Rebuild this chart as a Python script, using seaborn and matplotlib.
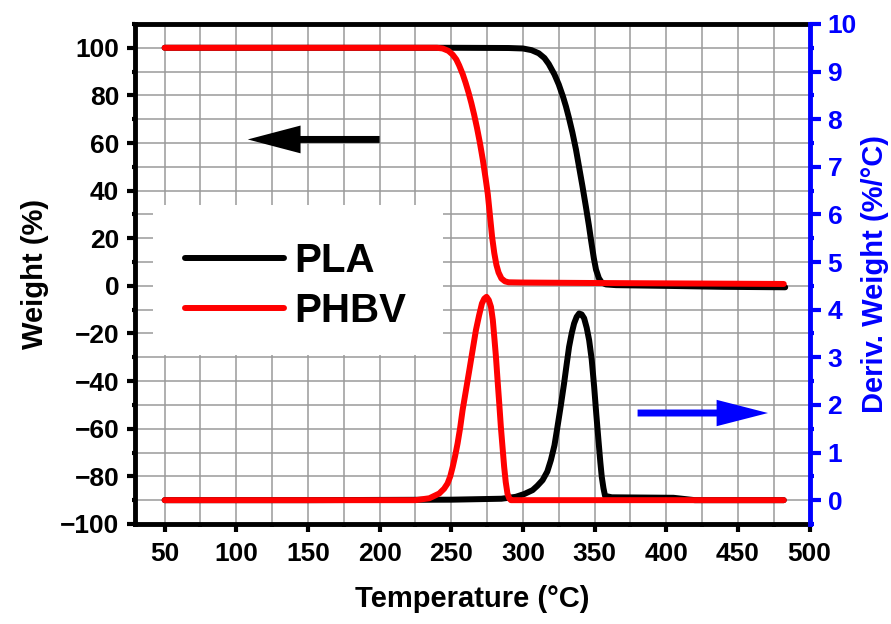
import matplotlib
matplotlib.use("Agg")
import matplotlib.pyplot as plt
import pandas as pd
import seaborn as sns
from matplotlib.ticker import MultipleLocator
from matplotlib.patches import Rectangle

# ---- TGA weight curves (left axis, %) ----
pla_w_temp = [50, 150, 250, 290, 300, 306, 311, 315, 318, 322, 325, 328, 330, 332,
              334.5, 337, 339, 341.5, 344, 346, 347.5, 349.5, 351, 353, 355, 358,
              365, 400, 440, 483]
pla_w = [100, 100, 100, 99.9, 99.7, 99.0, 97.7, 95.7, 93.2, 88.8, 84.6, 79.4, 75.4, 70.8,
         64.5, 57.3, 50.5, 42, 33, 25.5, 19.3, 11.5, 6.8, 3.2, 1.4, 0.6,
         0.3, 0.0, -0.4, -0.6]

phbv_w_temp = [50, 150, 240, 244, 248, 251, 253.5, 255.5, 258, 260, 262, 264, 266,
               268, 270, 272, 274, 275.5, 277, 278.5, 280, 281.5, 283, 285, 287.5,
               290, 300, 350, 400, 450, 482]
phbv_w = [100, 100, 100, 99.7, 98.7, 97.1, 95.1, 92.6, 88.9, 85.3, 81.3, 76.8, 71.8,
          66.2, 60, 53, 45, 38.5, 29.5, 20.5, 13.8, 8.8, 5.6, 3.1, 1.9,
          1.5, 1.4, 1.2, 1.05, 0.9, 0.8]

# ---- DTG curves (right axis, %/°C) ----
pla_d_temp = [50, 150, 250, 285, 295, 301, 306.7, 310, 313.7, 317, 319.5, 322, 324.1,
              326.5, 328.7, 330.5, 332.2, 334, 335.7, 337.5, 339.2, 341, 342.7, 344.5,
              346.2, 348, 349.7, 351.2, 352.7, 354, 355, 356.2, 357.3, 362, 405, 420, 482]
pla_d = [0, 0, 0.01, 0.03, 0.07, 0.13, 0.21, 0.3, 0.42, 0.6, 0.84, 1.15, 1.54,
         2.0, 2.45, 2.85, 3.22, 3.5, 3.71, 3.85, 3.92, 3.9, 3.82, 3.62,
         3.36, 2.95, 2.38, 1.8, 1.26, 0.8, 0.49, 0.25, 0.09, 0.06, 0.05, 0.0, 0.0]

phbv_d_temp = [50, 150, 225, 234.7, 241.6, 245, 247.4, 249.3, 251, 252.7, 254.4,
               256.2, 257.9, 260.2, 262.6, 265, 267.2, 269.4, 271.4, 273, 274.6,
               276.2, 277.7, 279, 280, 281.2, 282.3, 283.5, 284.6, 285.8, 286.9,
               288, 289.2, 290.4, 291.6, 300, 400, 482]
phbv_d = [0, 0, 0, 0.04, 0.14, 0.24, 0.35, 0.5, 0.70, 0.93, 1.19,
          1.52, 1.89, 2.3, 2.73, 3.17, 3.57, 3.88, 4.13, 4.23, 4.27,
          4.2, 4.06, 3.78, 3.43, 3.0, 2.52, 2.02, 1.54, 1.1, 0.70,
          0.38, 0.14, 0.04, 0.0, 0.0, 0.0, 0.0]

series_names = ["PLA", "PHBV"]
series_colors = ["black", "#ff0000"]

x_ticks = [50, 100, 150, 200, 250, 300, 350, 400, 450, 500]

weight_df = pd.concat([
    pd.DataFrame({"Temperature": pla_w_temp, "Weight": pla_w, "Sample": "PLA"}),
    pd.DataFrame({"Temperature": phbv_w_temp, "Weight": phbv_w, "Sample": "PHBV"}),
])
dtg_df = pd.concat([
    pd.DataFrame({"Temperature": pla_d_temp, "Deriv": pla_d, "Sample": "PLA"}),
    pd.DataFrame({"Temperature": phbv_d_temp, "Deriv": phbv_d, "Sample": "PHBV"}),
])

sns.set_theme(style="white")
plt.rcParams["font.family"] = ["Liberation Sans", "DejaVu Sans"]
plt.rcParams["font.weight"] = "bold"
plt.rcParams["axes.labelweight"] = "bold"
plt.rcParams["text.color"] = "black"
plt.rcParams["axes.labelcolor"] = "black"
plt.rcParams["xtick.color"] = "black"
plt.rcParams["ytick.color"] = "black"

fig = plt.figure(figsize=(8.91, 6.24), dpi=100)
ax = fig.add_axes([0.151, 0.1603, 0.7576, 0.8013])
ax2 = ax.twinx()

LW = 4.3
for name, color in zip(series_names, series_colors):
    sns.lineplot(data=weight_df[weight_df["Sample"] == name], x="Temperature", y="Weight",
                 ax=ax, color=color, lw=LW, label=name, estimator=None, sort=False,
                 legend=False, solid_capstyle="round", solid_joinstyle="round")
    sns.lineplot(data=dtg_df[dtg_df["Sample"] == name], x="Temperature", y="Deriv",
                 ax=ax2, color=color, lw=LW, estimator=None, sort=False,
                 legend=False, solid_capstyle="round", solid_joinstyle="round")

# axes limits and ticks
ax.set_xlim(29, 500)
ax.set_ylim(-100, 110)
ax2.set_ylim(-0.5, 10)
ax.set_xticks(x_ticks)
ax.xaxis.set_minor_locator(MultipleLocator(25))
ax.yaxis.set_major_locator(MultipleLocator(20))
ax.yaxis.set_minor_locator(MultipleLocator(10))
ax2.yaxis.set_major_locator(MultipleLocator(1))
ax2.yaxis.set_minor_locator(MultipleLocator(0.5))

ax.grid(which="both", color="#9a9a9a", lw=1.1)
ax.set_axisbelow(True)

ax.tick_params(which="major", direction="out", length=6, width=3, labelsize=19, pad=5,
               top=False, right=False, bottom=True, left=True)
ax.tick_params(axis="x", which="major", pad=7)
ax.tick_params(which="minor", direction="out", length=2.5, width=3,
               top=False, right=False, bottom=True, left=True)
ax2.tick_params(axis="y", which="major", direction="out", length=8, width=3,
                labelsize=19, pad=5, colors="blue")
ax2.tick_params(axis="y", which="minor", direction="out", length=3, width=3,
                colors="blue")

for side in ["left", "top", "bottom"]:
    ax.spines[side].set_color("black")
    ax.spines[side].set_linewidth(3.5)
    ax2.spines[side].set_visible(False)
ax.spines["right"].set_visible(False)
ax2.spines["right"].set_color("blue")
ax2.spines["right"].set_linewidth(3.5)

ax.set_xlabel("Temperature (°C)", fontsize=21, labelpad=14)
ax.set_ylabel("Weight (%)", fontsize=21, labelpad=8)
ax2.set_ylabel("Deriv. Weight (%/°C)", fontsize=21, color="blue", labelpad=3)

# white box behind the legend
ax.add_patch(Rectangle((0.0274, 0.338), 0.4296, 0.300, transform=ax.transAxes,
                       facecolor="white", edgecolor="none", zorder=1))
handles, labels = ax.get_legend_handles_labels()
ax.legend(handles, labels, loc="center left", bbox_to_anchor=(0.0748, 0.476),
          frameon=False, fontsize=29, handlelength=2.45, handletextpad=0.25,
          labelspacing=0.3, borderpad=0, borderaxespad=0)

# direction arrows pointing at each curve's axis
ax.annotate("", xy=(108, 61.5), xytext=(200, 61.5),
            arrowprops=dict(arrowstyle="simple,head_length=38,head_width=20,tail_width=5",
                            mutation_scale=1, color="black", lw=0,
                            shrinkA=0, shrinkB=0))
ax2.annotate("", xy=(471, 1.83), xytext=(380, 1.83),
             arrowprops=dict(arrowstyle="simple,head_length=37,head_width=19,tail_width=5",
                             mutation_scale=1, color="blue", lw=0,
                             shrinkA=0, shrinkB=0))

fig.savefig("out.png", dpi=100)
